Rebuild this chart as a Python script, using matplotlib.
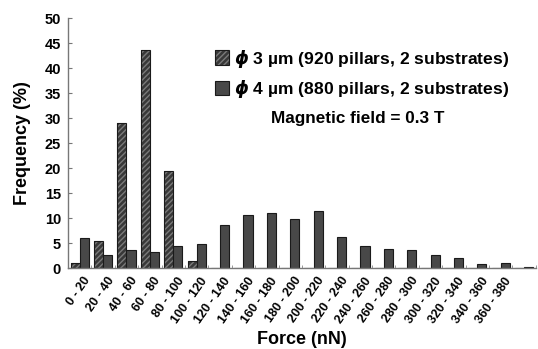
import matplotlib
matplotlib.use("Agg")
import matplotlib.pyplot as plt
from matplotlib.patches import Patch
import numpy as np

plt.rcParams['font.family'] = ['Liberation Sans', 'DejaVu Sans']
plt.rcParams['font.weight'] = 'bold'

categories = ["0 - 20", "20 - 40", "40 - 60", "60 - 80", "80 - 100", "100 - 120",
              "120 - 140", "140 - 160", "160 - 180", "180 - 200", "200 - 220",
              "220 - 240", "240 - 260", "260 - 280", "280 - 300", "300 - 320",
              "320 - 340", "340 - 360", "360 - 380", ""]
phi3 = [1.1, 5.4, 29.1, 43.6, 19.5, 1.5, 0, 0, 0, 0, 0, 0, 0, 0, 0, 0, 0, 0, 0, 0]
phi4 = [6.1, 2.6, 3.7, 3.2, 4.4, 4.9, 8.6, 10.7, 11.0, 9.9, 11.5, 6.3, 4.5, 3.8,
        3.7, 2.7, 2.1, 0.9, 1.1, 0.3]
yticks = [0, 5, 10, 15, 20, 25, 30, 35, 40, 45, 50]

fig = plt.figure(figsize=(5.38, 3.49), dpi=100)
ax = fig.add_axes([0.1264, 0.232, 0.8696, 0.716])

x = np.arange(len(categories))
w = 0.39
dark = '#383838'
ax.bar(x - w/2, phi3, w, color=dark, edgecolor='#7a7a7a', hatch='//////', linewidth=0)
ax.bar(x - w/2, phi3, w, fill=False, edgecolor='#1a1a1a', linewidth=0.8)
ax.bar(x + w/2, phi4, w, color='#484848', edgecolor='#1a1a1a', linewidth=0.8)

ax.set_xlim(-0.5, len(categories) - 0.5)
ax.set_ylim(0, 50)
ax.set_yticks(yticks)
ax.tick_params(axis='y', direction='in', length=3, width=0.8, color='#777777',
               labelsize=10.5, pad=5)
ax.set_xticks(x + 0.15)
ax.set_xticklabels(categories, rotation=55, ha='right', rotation_mode='anchor',
                   fontsize=9, fontweight='bold')
ax.tick_params(axis='x', length=0, pad=5)
ax.set_xticks(np.arange(len(categories)) + 0.5, minor=True)
ax.tick_params(axis='x', which='minor', direction='in', length=2, color='#888888')
for lbl in ax.get_yticklabels():
    lbl.set_fontweight('bold')

for s in ['top', 'right']:
    ax.spines[s].set_visible(False)
for s in ['left', 'bottom']:
    ax.spines[s].set_color('#777777')
    ax.spines[s].set_linewidth(1.0)

ax.set_ylabel('Frequency (%)', fontsize=13, fontweight='bold', labelpad=10)
ax.set_xlabel('Force (nN)', fontsize=13, fontweight='bold', labelpad=4)

h1 = Patch(facecolor=dark, edgecolor='#7a7a7a', hatch='//////', linewidth=0)
h1b = Patch(fill=False, edgecolor='#1a1a1a', linewidth=0.8)
h2 = Patch(facecolor='#484848', edgecolor='#1a1a1a', linewidth=0.8)
leg = ax.legend([(h1, h1b), h2],
                [r'$\phi$ 3 µm (920 pillars, 2 substrates)',
                 r'$\phi$ 4 µm (880 pillars, 2 substrates)'],
                loc='upper left', bbox_to_anchor=(0.30, 0.91), frameon=False,
                fontsize=12.6, handlelength=0.78, handleheight=0.88,
                handletextpad=0.3, labelspacing=0.5, borderaxespad=0)
for t in leg.get_texts():
    t.set_fontweight('bold')
ax.text(0.433, 0.60, 'Magnetic field = 0.3 T', transform=ax.transAxes,
        fontsize=12.3, fontweight='bold', ha='left', va='center')

fig.savefig('out.png', dpi=100)
